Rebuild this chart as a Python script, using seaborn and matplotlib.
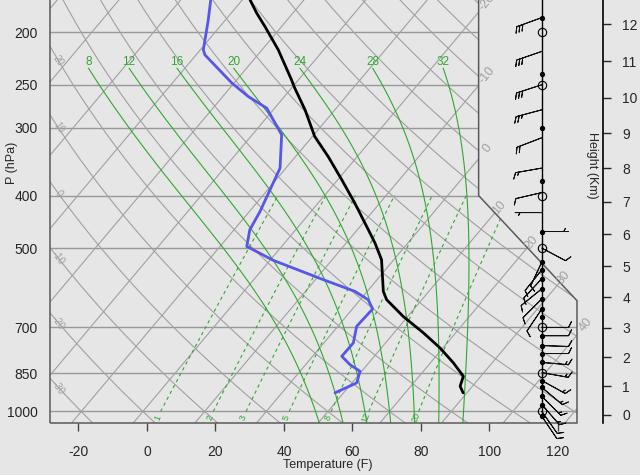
import numpy as np
import matplotlib
matplotlib.use('Agg')
import matplotlib.pyplot as plt
from matplotlib.patches import Polygon
from matplotlib.ticker import NullLocator
import seaborn as sns

# ---------------------------------------------------------------------------
# Sounding (pressure in hPa, values in deg F)
# ---------------------------------------------------------------------------
temp_p = [174.5, 184.6, 195.4, 215.7, 244.9, 253.7, 278.1, 311.5, 339.0, 374.2,
          413.0, 462.5, 489.3, 525.1, 600.7, 622.2, 667.8, 716.4, 763.4, 813.5,
          861.1, 898.3, 923.8]
temp_f = [-73.7, -68.5, -62.8, -53.2, -42.0, -39.0, -30.7, -21.3, -12.5, -2.8,
          6.7, 17.2, 22.4, 28.4, 36.7, 39.7, 48.6, 58.6, 67.1, 74.7,
          80.9, 82.4, 84.9]

dewp_p = [174.5, 190.0, 215.7, 220.3, 248.1, 262.9, 276.1, 309.2, 356.1, 390.4,
          428.0, 462.5, 496.4, 526.7, 571.6, 600.7, 622.2, 647.2, 696.7, 747.5,
          791.1, 819.4, 843.0, 885.5, 923.8]
dewp_f = [-85.2, -81.0, -75.1, -73.4, -58.7, -50.5, -42.3, -31.4, -23.7, -21.3,
          -18.9, -17.4, -14.2, -3.0, 16.3, 28.4, 34.3, 37.9, 37.5, 40.6,
          40.5, 44.9, 49.5, 51.4, 47.5]

# winds (direction deg, speed kt)
wind_p = [188, 217, 250, 278, 313, 356, 395, 430, 466, 500, 530, 548, 569, 594,
          620, 647, 700, 725, 756, 782, 812, 848, 877, 903, 938, 971, 1000, 1021]
wind_dir = [250, 251, 252, 255, 249, 260, 257, 270, 90, 118, 205, 219, 223, 231,
            225, 214, 90, 90, 92, 90, 95, 100, 119, 130, 135, 139, 145, 146]
wind_kt = [30, 30, 30, 25, 20, 15, 10, 5, 5, 10, 10, 10, 10, 10,
           10, 10, 10, 10, 10, 10, 15, 15, 15, 15, 15, 15, 10, 10]

dot_p = [188, 239, 300, 376, 466, 530, 548, 569, 594, 620, 647, 671, 725, 756,
         782, 812, 877, 903, 938, 971, 1021]
circle_p = [200, 250, 400, 500, 700, 850, 1000]

# chart furniture
press_lines = [200, 250, 300, 400, 500, 700, 850, 1000]
temp_ticks = [-20, 0, 20, 40, 60, 80, 100, 120]
isotherms_c = list(range(-100, 60, 10))
iso_labels_c = [-20, -10, 0, 10, 20, 30, 40]
dry_theta_c = list(range(-30, 180, 10))
moist_c = [8, 12, 16, 20, 24, 28, 32]
mix_ratio = [1, 2, 3, 5, 8, 12, 20]
height_km = list(range(13))
height_p = [1013.25, 898.75, 794.95, 701.09, 616.40, 540.20, 471.81, 410.61,
            356.00, 307.42, 264.36, 226.32, 193.30]

# ---------------------------------------------------------------------------
# skew-T geometry
# ---------------------------------------------------------------------------
SKEW = 57.85          # deg F of shift per unit ln(p)
P_BOT, P_TOP = 1050.0, 174.5
XMIN, XMAX = -28.3, 125.55
KINK_X = 41.0 + SKEW * np.log(P_BOT / 400.0)
STAFF_X = 115.3
MOIST_TOP = 233.0

GRAY = '#a0a0a0'
GREEN = '#30a830'
BLUE = '#5656e8'


def skew(t_f, p):
    return np.asarray(t_f) + SKEW * np.log(P_BOT / np.asarray(p, dtype=float))


def c2f(t):
    return np.asarray(t) * 1.8 + 32.0


def border_x(p):
    p = np.asarray(p, dtype=float)
    frac = (np.log(p) - np.log(400)) / (np.log(625) - np.log(400))
    return np.where(p <= 400, KINK_X,
                    np.where(p >= 625, XMAX, KINK_X + (XMAX - KINK_X) * frac))


def moist_profile(t0_c, p_levels):
    # pseudo-adiabat from 1000 hPa, simple small-step integration
    Rd, Cp, Lv, eps = 287.04, 1005.7, 2.501e6, 0.622

    def dtdp(t, p):
        es = 6.112 * np.exp(17.67 * (t - 273.15) / (t - 29.65))
        rs = eps * es / (p - es)
        return ((Rd * t + Lv * rs) / p) / (Cp + Lv * Lv * rs * eps / (Rd * t * t))

    out = []
    for target in p_levels:
        t, p = t0_c + 273.15, 1000.0
        n = max(int(abs(target - p) / 1.0), 1)
        dp = (target - p) / n
        for _ in range(n):
            k1 = dtdp(t, p)
            k2 = dtdp(t + 0.5 * dp * k1, p + 0.5 * dp)
            t += dp * k2
            p += dp
        out.append(t - 273.15)
    return np.array(out)


def mix_dewpoint(w, p):
    e = w * p / (622.0 + w)
    a = np.log(e / 6.112)
    return 243.5 * a / (17.67 - a)


# ---------------------------------------------------------------------------
# figure
# ---------------------------------------------------------------------------
sns.set_style('white', rc={'axes.facecolor': '#e6e6e6',
                           'figure.facecolor': '#e6e6e6'})
plt.rcParams['font.family'] = ['Liberation Sans', 'DejaVu Sans']
plt.rcParams['axes.unicode_minus'] = False

fig = plt.figure(figsize=(6.4, 4.75), dpi=100)
ax = fig.add_axes([50 / 640, 52 / 475, 527 / 640, 423 / 475])
ax.set_yscale('log')
ax.set_xlim(XMIN, XMAX)
ax.set_ylim(P_BOT, P_TOP)
for s in ax.spines.values():
    s.set_visible(False)

outline = Polygon([(XMIN, P_BOT), (XMIN, 100), (KINK_X, 100), (KINK_X, 400),
                   (XMAX, 625), (XMAX, P_BOT)], closed=True, fill=False,
                  edgecolor='#5a5a5a', lw=1.1, transform=ax.transData,
                  zorder=6, clip_on=False)
ax.add_patch(outline)


def clipped(line_list):
    for ln in line_list:
        ln.set_clip_path(outline)


pp = np.geomspace(P_BOT, 100, 400)

# pressure lines
for p in press_lines:
    clipped(ax.plot([XMIN, XMAX], [p, p], color='#999999', lw=1.0, zorder=1))

# isotherms
for tc in isotherms_c:
    clipped(ax.plot(skew(c2f(tc) * np.ones_like(pp), pp), pp,
                    color=GRAY, lw=0.8, zorder=1))

# dry adiabats
for th in dry_theta_c:
    tk = (th + 273.15) * (pp / 1000.0) ** 0.2857
    clipped(ax.plot(skew(c2f(tk - 273.15), pp), pp, color=GRAY, lw=0.8, zorder=1))

# labels of the gray lines
fine = np.geomspace(P_BOT, 150, 3000)
for tc in iso_labels_c:
    xi = skew(c2f(tc) * np.ones_like(fine), fine)
    d = xi - (border_x(fine) + 2.5)
    idx = np.where(d >= 0)[0]
    if len(idx) and fine[idx[0]] > P_TOP:
        ax.text(xi[idx[0]], fine[idx[0]], f'{tc}', color=GRAY, fontsize=9,
                rotation=50, ha='center', va='center', zorder=7)
for th in dry_theta_c:
    tk = (th + 273.15) * (fine / 1000.0) ** 0.2857
    xd = skew(c2f(tk - 273.15), fine)
    idx = np.where(xd <= XMIN + 2.5)[0]
    if len(idx) and idx[0] > 0 and fine[idx[0]] > P_TOP:
        ax.text(xd[idx[0]], fine[idx[0]], f'{th}', color=GRAY, fontsize=7,
                rotation=-55, ha='center', va='center', zorder=7)

# saturated adiabats
pm = np.geomspace(P_BOT, MOIST_TOP, 120)
for t0 in moist_c:
    tm = moist_profile(t0, pm)
    xm = skew(c2f(tm), pm)
    clipped(ax.plot(xm, pm, color=GREEN, lw=0.8, zorder=2))
    ax.text(xm[-1], MOIST_TOP, f'{t0}', color=GREEN, fontsize=8.5,
            ha='center', va='bottom', zorder=7)

# mixing ratio lines
pw = np.geomspace(1000, 400, 60)
for w in mix_ratio:
    xw = skew(c2f(mix_dewpoint(w, pw)), pw)
    clipped(ax.plot(xw, pw, color=GREEN, lw=0.8, ls=(0, (3, 3)), zorder=2))
    xl = skew(c2f(mix_dewpoint(w, 1025.0)), 1025.0)
    ax.text(xl, 1025, f'{w}', color=GREEN, fontsize=6.5, rotation=68,
            ha='center', va='center', zorder=7)

# sounding
sns.lineplot(x=skew(temp_f, temp_p), y=temp_p, sort=False, estimator=None,
             color='black', lw=2.0, ax=ax, zorder=5)
sns.lineplot(x=skew(dewp_f, dewp_p), y=dewp_p, sort=False, estimator=None,
             color=BLUE, lw=2.0, ax=ax, zorder=5)

# wind staff and barbs
ax.vlines(STAFF_X, 1021, 100, color='black', lw=1.0, zorder=6)
rad = np.deg2rad(wind_dir)
u = -np.array(wind_kt) * np.sin(rad)
v = -np.array(wind_kt) * np.cos(rad)
ax.barbs(np.full(len(wind_p), STAFF_X), wind_p, u, v, length=6.2,
         sizes=dict(height=0.22, spacing=0.12, width=0.22),
         linewidth=0.7, color='#111111', flip_barb=True, zorder=6,
         clip_on=False)
ax.plot(np.full(len(dot_p), STAFF_X), dot_p, 'o', ms=2.8, color='black',
        zorder=7, clip_on=False)
ax.plot(np.full(len(circle_p), STAFF_X), circle_p, 'o', ms=6, mfc='none',
        mec='black', mew=0.8, zorder=7, clip_on=False)

# axes and ticks
ax.set_yticks(press_lines)
ax.set_yticklabels([str(p) for p in press_lines])
ax.yaxis.set_minor_locator(NullLocator())
ax.tick_params(axis='y', length=0, pad=9, labelsize=10)
ax.set_xticks(temp_ticks)
ax.tick_params(axis='x', direction='out', length=6, width=1, color='#444444',
               pad=10, labelsize=10, bottom=True)
ax.set_xlabel('Temperature (F)', fontsize=9, va='center')
ax.xaxis.set_label_coords(0.527, -0.1)
ax.set_ylabel('P (hPa)', fontsize=9, va='center')
ax.yaxis.set_label_coords(-0.072, 0.615)

# height axis on the right
ax2 = fig.add_axes([577 / 640, 52 / 475, 26 / 640, 423 / 475])
ax2.set_facecolor('none')
ax2.set_yscale('log')
ax2.set_ylim(P_BOT, P_TOP)
for side in ['left', 'top', 'bottom']:
    ax2.spines[side].set_visible(False)
ax2.spines['right'].set_color('black')
ax2.spines['right'].set_linewidth(1.2)
ax2.set_xticks([])
ax2.yaxis.tick_right()
ax2.set_yticks(height_p)
ax2.set_yticklabels([str(h) for h in height_km])
ax2.yaxis.set_minor_locator(NullLocator())
ax2.tick_params(axis='y', direction='out', length=6, width=1, pad=8,
                labelsize=10)
ax2.text(0.58, 0.61, 'Height (Km)', rotation=270, ha='center', va='center',
         fontsize=9, transform=ax2.transAxes)

fig.savefig('out.png', dpi=100)
